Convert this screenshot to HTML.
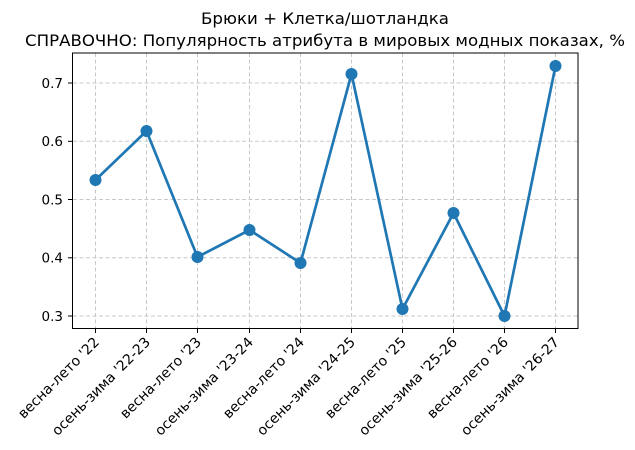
<!DOCTYPE html>
<html><head><meta charset="utf-8"><style>body{margin:0;background:#fff}svg{display:block}</style></head><body>
<svg width="635" height="450" viewBox="0 0 635 450" font-family="'DejaVu Sans','Liberation Sans',sans-serif">
<rect width="635" height="450" fill="#fff"/>
<text x="325" y="24" font-size="16" text-anchor="middle" textLength="248" lengthAdjust="spacingAndGlyphs">Брюки + Клетка/шотландка</text>
<text x="325" y="46" font-size="16" text-anchor="middle" textLength="600" lengthAdjust="spacingAndGlyphs">СПРАВОЧНО: Популярность атрибута в мировых модных показах, %</text>
<g stroke="#c8c8c8" stroke-width="1" stroke-dasharray="4,2.5">
<line x1="95.5" y1="53" x2="95.5" y2="328"/><line x1="146.5" y1="53" x2="146.5" y2="328"/><line x1="197.5" y1="53" x2="197.5" y2="328"/><line x1="249.5" y1="53" x2="249.5" y2="328"/><line x1="300.5" y1="53" x2="300.5" y2="328"/><line x1="351.5" y1="53" x2="351.5" y2="328"/><line x1="402.5" y1="53" x2="402.5" y2="328"/><line x1="453.5" y1="53" x2="453.5" y2="328"/><line x1="504.5" y1="53" x2="504.5" y2="328"/><line x1="555.5" y1="53" x2="555.5" y2="328"/>
<line x1="73" y1="83" x2="578" y2="83"/><line x1="73" y1="141.3" x2="578" y2="141.3"/><line x1="73" y1="199.5" x2="578" y2="199.5"/><line x1="73" y1="257.8" x2="578" y2="257.8"/><line x1="73" y1="316" x2="578" y2="316"/>
</g>
<rect x="72.5" y="53" width="505.5" height="275.5" fill="none" stroke="#000" stroke-width="1"/>
<g stroke="#000" stroke-width="1">
<line x1="68" y1="83" x2="72.5" y2="83"/><line x1="68" y1="141.3" x2="72.5" y2="141.3"/><line x1="68" y1="199.5" x2="72.5" y2="199.5"/><line x1="68" y1="257.8" x2="72.5" y2="257.8"/><line x1="68" y1="316" x2="72.5" y2="316"/>
<line x1="95.5" y1="328.5" x2="95.5" y2="333"/><line x1="146.5" y1="328.5" x2="146.5" y2="333"/><line x1="197.5" y1="328.5" x2="197.5" y2="333"/><line x1="249.5" y1="328.5" x2="249.5" y2="333"/><line x1="300.5" y1="328.5" x2="300.5" y2="333"/><line x1="351.5" y1="328.5" x2="351.5" y2="333"/><line x1="402.5" y1="328.5" x2="402.5" y2="333"/><line x1="453.5" y1="328.5" x2="453.5" y2="333"/><line x1="504.5" y1="328.5" x2="504.5" y2="333"/><line x1="555.5" y1="328.5" x2="555.5" y2="333"/>
</g>
<g font-size="13.5" text-anchor="end">
<text x="63" y="88">0.7</text><text x="63" y="146">0.6</text><text x="63" y="204.5">0.5</text><text x="63" y="262.5">0.4</text><text x="63" y="321">0.3</text>
</g>
<g font-size="14" text-anchor="end">
<text transform="translate(100,343) rotate(-45)">весна-лето '22</text>
<text transform="translate(151,343) rotate(-45)">осень-зима '22-23</text>
<text transform="translate(202,343) rotate(-45)">весна-лето '23</text>
<text transform="translate(254,343) rotate(-45)">осень-зима '23-24</text>
<text transform="translate(305,343) rotate(-45)">весна-лето '24</text>
<text transform="translate(356,343) rotate(-45)">осень-зима '24-25</text>
<text transform="translate(407,343) rotate(-45)">весна-лето '25</text>
<text transform="translate(458,343) rotate(-45)">осень-зима '25-26</text>
<text transform="translate(509,343) rotate(-45)">весна-лето '26</text>
<text transform="translate(560,343) rotate(-45)">осень-зима '26-27</text>
</g>
<polyline fill="none" stroke="#1f77b4" stroke-width="2.7" stroke-linejoin="round" points="95.5,180 146.5,131 197.5,257 249.5,230 300.5,263 351.5,74 402.5,309 453.5,213 504.5,316 555.5,66"/>
<g fill="#1f77b4">
<circle cx="95.5" cy="180" r="6"/><circle cx="146.5" cy="131" r="6"/><circle cx="197.5" cy="257" r="6"/><circle cx="249.5" cy="230" r="6"/><circle cx="300.5" cy="263" r="6"/><circle cx="351.5" cy="74" r="6"/><circle cx="402.5" cy="309" r="6"/><circle cx="453.5" cy="213" r="6"/><circle cx="504.5" cy="316" r="6"/><circle cx="555.5" cy="66" r="6"/>
</g>
</svg>
</body></html>
